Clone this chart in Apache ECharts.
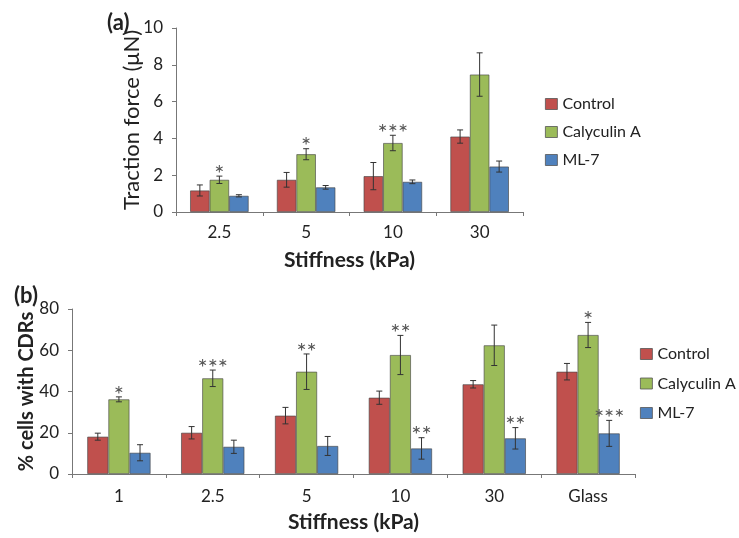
<!DOCTYPE html>
<html><head><meta charset="utf-8">
<script src="https://cdn.jsdelivr.net/npm/echarts@6/dist/echarts.min.js"></script>
<style>html,body{margin:0;padding:0;background:#fff}#c{width:739px;height:538px}</style>
</head><body><div id="c"></div>
<script>
// Panel (a): traction force
const catsA = ['2.5', '5', '10', '30'];
const controlA = [1.17, 1.75, 1.95, 4.1];
const controlAErr = [0.3, 0.4, 0.74, 0.36];
const calyA = [1.75, 3.14, 3.75, 7.47];
const calyAErr = [0.2, 0.3, 0.42, 1.18];
const mlA = [0.88, 1.34, 1.64, 2.47];
const mlAErr = [0.06, 0.1, 0.1, 0.3];
const starsA = [['', '', '', ''], ['*', '*', '***', ''], ['', '', '', '']];
const yTicksA = [0, 2, 4, 6, 8, 10];

// Panel (b): % cells with CDRs
const catsB = ['1', '2.5', '5', '10', '30', 'Glass'];
const controlB = [18.1, 20.0, 28.3, 37.0, 43.5, 49.6];
const controlBErr = [1.7, 3.0, 4.0, 3.2, 1.8, 4.0];
const calyB = [36.2, 46.4, 49.6, 57.7, 62.4, 67.4];
const calyBErr = [1.2, 4.0, 8.6, 9.5, 9.8, 6.1];
const mlB = [10.3, 13.2, 13.6, 12.4, 17.3, 19.7];
const mlBErr = [3.9, 3.2, 4.6, 5.2, 5.2, 6.3];
const starsB = [['', '', '', '', '', ''], ['*', '***', '**', '**', '', '*'], ['', '', '', '**', '**', '***']];
const yTicksB = [0, 20, 40, 60, 80];

const names = ['Control', 'Calyculin A', 'ML-7'];
const colors = ['#c0504d', '#9bbb59', '#4f81bd'];
const FONT = 'Lato, "Open Sans", sans-serif';
const BW = 0.225;
const TXT = '#222';

function bars(gi, vals) {
  return vals.map((v, i) => ({
    name: names[i], type: 'bar', xAxisIndex: gi, yAxisIndex: gi,
    data: v, barWidth: (BW * 100) + '%', barGap: '0%',
    itemStyle: { color: colors[i], borderColor: 'rgba(70,70,70,0.8)', borderWidth: 0.8 }
  }));
}
function errs(gi, vals, errsArr, stars, fs) {
  return vals.map((v, si) => ({
    type: 'custom', xAxisIndex: gi, yAxisIndex: gi, z: 5,
    data: v.map((val, k) => [k, val, errsArr[si][k]]),
    renderItem: function (params, api) {
      const k = api.value(0), val = api.value(1), e = api.value(2);
      const band = api.size([1, 0])[0];
      const base = api.coord([k, val]);
      const cx = base[0] + (si - 1) * band * BW;
      const top = api.coord([k, val + e])[1];
      const bot = api.coord([k, val - e])[1];
      const cap = 3;
      const st = { stroke: '#333', lineWidth: 1 };
      const children = [
        { type: 'line', shape: { x1: cx, y1: top, x2: cx, y2: bot }, style: st },
        { type: 'line', shape: { x1: cx - cap, y1: top, x2: cx + cap, y2: top }, style: st },
        { type: 'line', shape: { x1: cx - cap, y1: bot, x2: cx + cap, y2: bot }, style: st }
      ];
      const s = stars[si][params.dataIndex];
      if (s) {
        children.push({ type: 'text', style: { text: s, x: cx, y: top - 2, align: 'center', verticalAlign: 'middle', fontSize: fs, fontFamily: FONT, fill: '#555' } });
      }
      return { type: 'group', children: children };
    }
  }));
}

const axisLine = { show: true, lineStyle: { color: '#777', width: 1 } };
const tick = { show: true, length: 4, lineStyle: { color: '#777' } };
const legendText = { fontSize: 16, color: TXT, fontFamily: FONT };
const chart = echarts.init(document.getElementById('c'));
chart.setOption({
  animation: false,
  textStyle: { fontFamily: FONT },
  title: [
    { text: '(a)', left: 102, top: 7, textStyle: { fontSize: 22, fontWeight: 'bold', color: TXT, fontFamily: FONT } },
    { text: '(b)', left: 9, top: 280, textStyle: { fontSize: 22, fontWeight: 'bold', color: TXT, fontFamily: FONT } }
  ],
  legend: [
    { data: names, orient: 'vertical', left: 540, top: 91, itemWidth: 12, itemHeight: 11, itemGap: 12, icon: 'rect', itemTextGap: 4,
      itemStyle: { borderColor: '#555', borderWidth: 0.8 }, textStyle: legendText },
    { data: names, orient: 'vertical', left: 635, top: 341, itemWidth: 12, itemHeight: 11, itemGap: 13.5, icon: 'rect', itemTextGap: 4,
      itemStyle: { borderColor: '#555', borderWidth: 0.8 }, textStyle: legendText }
  ],
  grid: [
    { left: 176, right: 216, top: 28, bottom: 326 },
    { left: 72, right: 104, top: 309, bottom: 64 }
  ],
  xAxis: [
    { type: 'category', gridIndex: 0, data: catsA, axisLine: axisLine, axisTick: tick,
      axisLabel: { fontSize: 17, color: TXT, margin: 12 },
      name: 'Stiffness (kPa)', nameLocation: 'middle', nameGap: 38, nameMoveOverlap: false, nameTextStyle: { fontSize: 21, fontWeight: 'bold', color: TXT } },
    { type: 'category', gridIndex: 1, data: catsB, axisLine: axisLine, axisTick: tick,
      axisLabel: { fontSize: 17, color: TXT, margin: 14 },
      name: 'Stiffness (kPa)', nameLocation: 'middle', nameGap: 38, nameMoveOverlap: false, nameTextStyle: { fontSize: 21, fontWeight: 'bold', color: TXT } }
  ],
  yAxis: [
    { type: 'value', gridIndex: 0, min: yTicksA[0], max: yTicksA[yTicksA.length - 1], interval: yTicksA[1] - yTicksA[0],
      axisLine: axisLine, axisTick: tick, splitLine: { show: false },
      axisLabel: { fontSize: 17, color: TXT, margin: 13 },
      name: 'Traction force (μN)', nameLocation: 'middle', nameGap: 33, nameMoveOverlap: false, nameTextStyle: { fontSize: 22, color: TXT } },
    { type: 'value', gridIndex: 1, min: yTicksB[0], max: yTicksB[yTicksB.length - 1], interval: yTicksB[1] - yTicksB[0],
      axisLine: axisLine, axisTick: tick, splitLine: { show: false },
      axisLabel: { fontSize: 17, color: TXT, margin: 13 },
      name: '% cells with CDRs', nameLocation: 'middle', nameGap: 35, nameMoveOverlap: false, nameTextStyle: { fontSize: 20, fontWeight: 'bold', color: TXT } }
  ],
  series: [].concat(
    bars(0, [controlA, calyA, mlA]),
    bars(1, [controlB, calyB, mlB]),
    errs(0, [controlA, calyA, mlA], [controlAErr, calyAErr, mlAErr], starsA, 24),
    errs(1, [controlB, calyB, mlB], [controlBErr, calyBErr, mlBErr], starsB, 24)
  )
});
</script></body></html>
